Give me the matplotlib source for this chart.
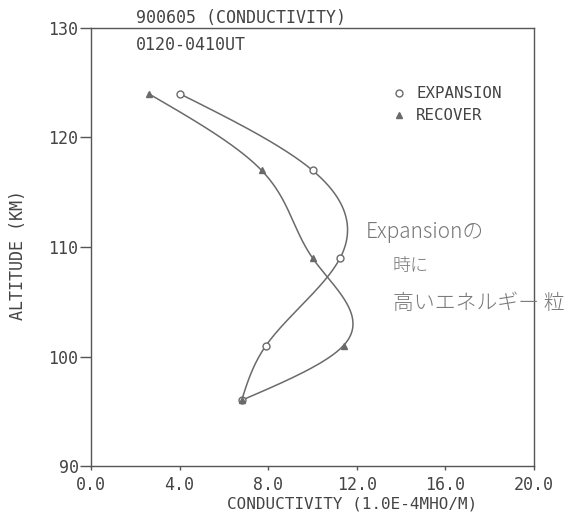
import numpy as np
import matplotlib
matplotlib.use("Agg")
import matplotlib.pyplot as plt

# ---- data ----
altitude = [96, 101, 109, 117, 124]
expansion = [6.8, 7.9, 11.25, 10.0, 4.0]
recover = [6.8, 11.4, 10.0, 7.7, 2.6]
x_ticks = [0.0, 4.0, 8.0, 12.0, 16.0, 20.0]
y_ticks = [90, 100, 110, 120, 130]
title1 = "900605 (CONDUCTIVITY)"
title2 = "0120-0410UT"
xlabel = "CONDUCTIVITY (1.0E-4MHO/M)"
ylabel = "ALTITUDE (KM)"
legend_labels = ["EXPANSION", "RECOVER"]
note_lines = ["Expansionの", "時に", "高いエネルギー 粒"]


def natural_spline(t, v, tt):
    t = np.asarray(t, float); v = np.asarray(v, float)
    n = len(t)
    h = np.diff(t)
    A = np.zeros((n, n)); b = np.zeros(n)
    A[0, 0] = A[-1, -1] = 1
    for i in range(1, n - 1):
        A[i, i - 1] = h[i - 1]; A[i, i] = 2 * (h[i - 1] + h[i]); A[i, i + 1] = h[i]
        b[i] = 6 * ((v[i + 1] - v[i]) / h[i] - (v[i] - v[i - 1]) / h[i - 1])
    M = np.linalg.solve(A, b)
    out = np.empty_like(tt)
    for k, x in enumerate(tt):
        i = min(max(np.searchsorted(t, x) - 1, 0), n - 2)
        a, c = t[i], t[i + 1]
        out[k] = (M[i] * (c - x) ** 3 / (6 * h[i]) + M[i + 1] * (x - a) ** 3 / (6 * h[i])
                  + (v[i] / h[i] - M[i] * h[i] / 6) * (c - x)
                  + (v[i + 1] / h[i] - M[i + 1] * h[i] / 6) * (x - a))
    return out


W, H = 573, 514
fig = plt.figure(figsize=(W / 100, H / 100), dpi=100)
ax = fig.add_axes([91 / W, 1 - 466 / H, (534 - 91) / W, (466 - 28) / H])

mono = "DejaVu Sans Mono"
ink = "#555555"
line_c = "#6a6a6a"
txt_c = "#444444"

yy = np.linspace(altitude[0], altitude[-1], 300)
ax.plot(natural_spline(altitude, expansion, yy), yy, color=line_c, lw=1.1)
ax.plot(natural_spline(altitude, recover, yy), yy, color=line_c, lw=1.1)
ax.plot(expansion, altitude, linestyle="none", marker="o", ms=5,
        mfc="white", mec=line_c, mew=1.0)
ax.plot(recover, altitude, linestyle="none", marker="^", ms=4,
        mfc=line_c, mec=line_c)

ax.set_xlim(0, 20)
ax.set_ylim(90, 130)
ax.set_xticks(x_ticks)
ax.set_xticklabels([f"{v:.1f}" for v in x_ticks])
ax.set_yticks(y_ticks)
ax.set_yticklabels([str(v) for v in y_ticks])
for s in ax.spines.values():
    s.set_color(ink)
    s.set_linewidth(1.0)
ax.tick_params(axis="y", direction="out", length=8, width=1.0, color=ink, pad=1,
               labelsize=12, labelcolor=txt_c)
ax.tick_params(axis="x", direction="out", length=3, width=1.0, color=ink, pad=4,
               labelsize=12, labelcolor=txt_c)
for lab in ax.get_xticklabels() + ax.get_yticklabels():
    lab.set_family(mono)

fig.text(352 / W, 1 - 504 / H, xlabel, ha="center", va="center", family=mono,
         fontsize=11.5, color=txt_c)
fig.text(18 / W, 1 - 255 / H, ylabel, ha="center", va="center", rotation=90,
         family=mono, fontsize=12, color=txt_c)
fig.text(136 / W, 1 - 18 / H, title1, ha="left", va="center", family=mono,
         fontsize=12, color=txt_c)
fig.text(136 / W, 1 - 45 / H, title2, ha="left", va="center", family=mono,
         fontsize=12, color=txt_c)

# legend
fig.lines.append(plt.Line2D([399 / W], [1 - 93 / H], transform=fig.transFigure,
                            marker="o", ms=5, mfc="white", mec=line_c, mew=1.0,
                            linestyle="none"))
fig.lines.append(plt.Line2D([399 / W], [1 - 115 / H], transform=fig.transFigure,
                            marker="^", ms=4, mfc=line_c, mec=line_c,
                            linestyle="none"))
fig.text(416 / W, 1 - 93 / H, legend_labels[0], ha="left", va="center",
         family=mono, fontsize=11.3, color=txt_c)
fig.text(416 / W, 1 - 115 / H, legend_labels[1], ha="left", va="center",
         family=mono, fontsize=11.3, color=txt_c)

# handwritten annotation
hand = ["Noto Sans CJK JP", "DejaVu Sans"]
fig.text(366 / W, 1 - 232 / H, note_lines[0], ha="left", va="center", family=hand,
         fontsize=15, color="#777777", style="italic", weight="light")
fig.text(393 / W, 1 - 266 / H, note_lines[1], ha="left", va="center", family=hand,
         fontsize=13, color="#777777", weight="light")
fig.text(393 / W, 1 - 303 / H, note_lines[2], ha="left", va="center", family=hand,
         fontsize=15, color="#777777", weight="light")

fig.savefig("out.png", dpi=100, facecolor="white")
